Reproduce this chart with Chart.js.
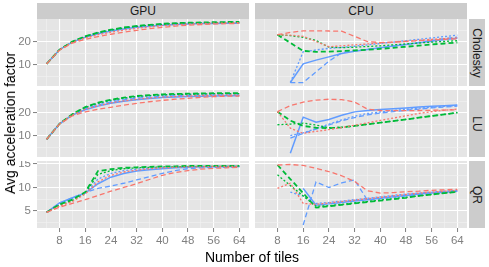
<!DOCTYPE html>
<html>
<head>
<meta charset="utf-8">
<script src="https://cdn.jsdelivr.net/npm/chart.js@4.4.0/dist/chart.umd.min.js"></script>
<style>
body { margin: 0; background: #fff; }
#wrap { position: relative; width: 489px; height: 267px; font-family: "Liberation Sans", Arial, sans-serif; overflow: hidden; }
.box { position: absolute; }
.strip { position: absolute; background: #CCCCCC; color: #1A1A1A; font-size: 12px; display: flex; align-items: center; justify-content: center; }
.strip.side span { transform: rotate(90deg); white-space: nowrap; }
.title { position: absolute; font-size: 14px; color: #000; white-space: nowrap; }
</style>
</head>
<body>
<div id="wrap"></div>
<script>
// x values (number of tiles)
const xGpu = [4, 8, 12, 16, 20, 24, 28, 32, 36, 40, 44, 48, 52, 56, 60, 64];
const xCpu = [8, 12, 16, 20, 24, 28, 32, 36, 40, 44, 48, 52, 56, 60, 64];

// series order: red dashed, red dotted, green dashed, green dotted, blue solid, blue dashed, blue dotted
const gpuCholesky = [
  [10.4, 16.3, 19.4, 21.0, 22.2, 23.2, 24.1, 24.9, 25.6, 26.2, 26.7, 27.1, 27.4, 27.6, 27.8, 27.9],
  [10.4, 16.4, 19.7, 21.6, 23.0, 24.1, 25.0, 25.8, 26.4, 26.9, 27.3, 27.6, 27.8, 28.0, 28.1, 28.2],
  [10.4, 16.5, 20.0, 22.3, 24.0, 25.2, 26.1, 26.8, 27.3, 27.7, 28.0, 28.2, 28.3, 28.4, 28.5, 28.5],
  [10.4, 16.5, 19.9, 22.2, 23.8, 25.0, 25.9, 26.6, 27.1, 27.5, 27.8, 28.0, 28.1, 28.2, 28.3, 28.3],
  [10.4, 16.5, 19.8, 21.9, 23.4, 24.6, 25.5, 26.2, 26.7, 27.1, 27.4, 27.6, 27.8, 27.9, 28.0, 28.0],
  [10.4, 16.5, 19.9, 22.1, 23.7, 24.9, 25.8, 26.5, 27.0, 27.4, 27.7, 27.9, 28.0, 28.1, 28.2, 28.2],
  [10.4, 16.5, 20.0, 22.3, 23.9, 25.1, 26.0, 26.7, 27.2, 27.6, 27.9, 28.1, 28.2, 28.3, 28.4, 28.4]
];
const gpuLU = [
  [8.4, 15.0, 18.6, 20.3, 21.4, 22.3, 23.2, 24.0, 24.7, 25.3, 25.8, 26.2, 26.6, 26.9, 27.1, 27.2],
  [8.4, 15.1, 19.0, 21.4, 23.0, 24.2, 25.1, 25.8, 26.3, 26.7, 27.0, 27.2, 27.4, 27.5, 27.6, 27.6],
  [8.4, 15.1, 19.3, 22.4, 24.3, 25.6, 26.5, 27.2, 27.6, 27.9, 28.1, 28.2, 28.3, 28.4, 28.4, 28.4],
  [8.4, 15.1, 19.2, 22.2, 24.1, 25.4, 26.3, 27.0, 27.4, 27.7, 27.9, 28.0, 28.1, 28.2, 28.2, 28.2],
  [8.4, 15.1, 18.9, 21.2, 22.8, 24.0, 24.9, 25.6, 26.1, 26.5, 26.8, 27.0, 27.1, 27.2, 27.3, 27.3],
  [8.4, 15.1, 19.1, 21.6, 23.3, 24.6, 25.5, 26.2, 26.7, 27.1, 27.3, 27.5, 27.6, 27.7, 27.7, 27.7],
  [8.4, 15.1, 19.2, 22.0, 23.8, 25.0, 26.0, 26.7, 27.2, 27.5, 27.7, 27.9, 28.0, 28.0, 28.1, 28.1]
];
const gpuQR = [
  [4.7, 5.8, 6.6, 7.4, 8.3, 9.2, 10.0, 10.8, 11.7, 12.6, 13.2, 13.6, 13.9, 14.1, 14.2, 14.3],
  [4.7, 6.0, 7.0, 8.6, 11.2, 12.6, 13.3, 13.7, 14.0, 14.2, 14.3, 14.4, 14.4, 14.5, 14.5, 14.5],
  [4.7, 6.4, 7.4, 9.0, 13.5, 13.9, 14.2, 14.3, 14.4, 14.5, 14.5, 14.6, 14.6, 14.6, 14.6, 14.6],
  [4.7, 6.2, 7.2, 8.8, 12.8, 13.6, 14.0, 14.2, 14.3, 14.4, 14.4, 14.5, 14.5, 14.5, 14.5, 14.5],
  [4.7, 6.7, 7.8, 8.8, 10.8, 12.2, 13.0, 13.5, 13.8, 14.0, 14.2, 14.3, 14.4, 14.4, 14.5, 14.5],
  [4.7, 6.6, 7.8, 8.9, 9.8, 10.3, 10.9, 11.6, 12.3, 13.0, 13.6, 14.0, 14.2, 14.3, 14.3, 14.4],
  [4.7, 6.5, 7.6, 8.8, 11.8, 13.0, 13.6, 13.9, 14.1, 14.3, 14.4, 14.4, 14.5, 14.5, 14.5, 14.5]
];
const cpuCholesky = [
  [23.0, 24.0, 24.7, 24.7, 24.6, 24.5, 22.3, 20.0, 19.6, 19.8, 20.1, 20.4, 20.7, 21.0, 21.2],
  [23.0, 22.8, 22.3, 20.0, 17.8, 18.2, 18.6, 19.0, 19.4, 19.8, 20.2, 20.6, 21.0, 21.3, 21.6],
  [23.0, 19.5, 16.0, 15.6, 15.7, 15.9, 16.2, 16.5, 16.9, 17.3, 17.8, 18.3, 18.8, 19.2, 19.6],
  [23.0, 22.6, 21.9, 20.5, 17.6, 17.4, 17.6, 17.9, 18.2, 18.6, 19.0, 19.4, 19.8, 20.1, 20.4],
  [null, 2.3, 10.4, 12.0, 13.4, 14.9, 15.8, 16.6, 17.4, 18.1, 18.8, 19.5, 20.2, 20.9, 21.5],
  [null, 2.3, 2.3, 6.9, 11.5, 15.2, 16.0, 16.6, 17.3, 18.0, 18.8, 19.7, 20.5, 21.3, 22.0],
  [null, 2.3, 15.6, 16.4, 17.1, 17.5, 18.0, 18.6, 19.2, 19.8, 20.4, 21.0, 21.6, 22.2, 22.8]
];
const cpuLU = [
  [20.4, 23.0, 24.5, 25.4, 25.8, 25.6, 24.6, 21.5, 20.9, 20.8, 20.8, 20.9, 21.0, 21.1, 21.2],
  [20.4, 13.2, 11.0, 11.8, 12.6, 13.5, 14.5, 15.5, 16.6, 17.6, 18.6, 19.6, 20.4, 21.0, 21.5],
  [20.4, 16.5, 14.2, 13.4, 13.2, 13.6, 14.2, 14.9, 15.6, 16.3, 17.0, 17.8, 18.5, 19.2, 20.0],
  [14.7, 15.0, 15.4, 14.6, 13.4, 13.6, 14.2, 14.9, 15.6, 16.3, 17.0, 17.8, 18.5, 19.2, 20.0],
  [null, 2.3, 18.0, 15.8, 17.0, 18.8, 20.3, 20.9, 21.3, 21.7, 22.0, 22.4, 22.7, 23.0, 23.3],
  [null, 8.9, 11.0, 12.8, 14.6, 16.4, 17.8, 19.0, 19.8, 20.4, 21.0, 21.5, 22.0, 22.4, 22.8],
  [null, 10.0, 11.2, 13.0, 15.0, 16.8, 18.4, 19.6, 20.3, 20.9, 21.4, 21.9, 22.3, 22.7, 23.1]
];
const cpuQR = [
  [14.8, 14.9, 14.7, 14.1, 13.4, 12.5, 11.3, 9.3, 8.8, 8.9, 9.1, 9.2, 9.4, 9.5, 9.6],
  [9.8, 10.9, 6.6, 6.4, 6.7, 7.0, 7.3, 7.6, 7.9, 8.2, 8.5, 8.8, 9.0, 9.2, 9.4],
  [14.8, 11.8, 8.8, 5.7, 6.0, 6.3, 6.6, 6.9, 7.2, 7.5, 7.8, 8.2, 8.5, 8.8, 9.1],
  [12.7, 10.4, 8.2, 6.0, 6.1, 6.4, 6.7, 7.0, 7.3, 7.6, 7.9, 8.2, 8.5, 8.8, 9.1],
  [null, null, 9.8, 6.2, 6.5, 6.8, 7.1, 7.4, 7.7, 8.0, 8.3, 8.6, 8.8, 9.0, 9.2],
  [null, null, 2.0, 11.2, 10.0, 11.0, 11.6, 7.3, 7.6, 7.9, 8.2, 8.5, 8.8, 9.0, 9.2],
  [null, 9.0, 8.2, 6.6, 6.8, 7.1, 7.4, 7.7, 8.0, 8.3, 8.6, 8.8, 9.0, 9.2, 9.4]
];

// axis breaks
const xMajor = [8, 16, 24, 32, 40, 48, 56, 64];
const xMinor = [4, 12, 20, 28, 36, 44, 52, 60];
const bigMajor = [10, 20];
const bigMinor = [5, 15, 25];
const qrMajor = [5, 10, 15];
const qrMinor = [2.5, 7.5, 12.5];

const colLabels = ['GPU', 'CPU'];
const rowLabels = ['Cholesky', 'LU', 'QR'];

// line styles
const lineColors = ['#F8766D', '#F8766D', '#00BA38', '#00BA38', '#619CFF', '#619CFF', '#619CFF'];
const lineDashes = [[5, 3], [2, 2], [5, 3], [2, 2], [], [5, 3], [2, 2]];
const lineWidths = [1.3, 1.3, 1.8, 1.3, 1.5, 1.3, 1.3];

const wrap = document.getElementById('wrap');
const FONT = '"Liberation Sans", Arial, sans-serif';
const colLeft = [37, 255];
const rowTop = [19, 90, 161];
const PW = 212, PH = 67, YAXIS = 23, XAXIS = 22;

const panelBg = {
    id: 'panelBg',
    beforeDraw(chart) {
        const a = chart.chartArea;
        const ctx = chart.ctx;
        ctx.save();
        ctx.fillStyle = '#E5E5E5';
        ctx.fillRect(a.left, a.top, a.right - a.left, a.bottom - a.top);
        ctx.restore();
    }
};

function axis(pos, min, max, major, minor, show, size) {
    const all = major.concat(minor).sort((a, b) => a - b);
    const isMajor = c => c.tick && major.includes(c.tick.value);
    return {
        type: 'linear',
        position: pos === 'x' ? 'bottom' : 'left',
        min: min,
        max: max,
        border: { display: false },
        grid: {
            color: c => isMajor(c) ? '#FFFFFF' : '#F2F2F2',
            lineWidth: c => isMajor(c) ? 1.1 : 0.6,
            drawTicks: show,
            tickLength: 4,
            tickWidth: 1,
            tickColor: c => isMajor(c) ? '#7F7F7F' : 'rgba(0,0,0,0)'
        },
        ticks: {
            display: show,
            autoSkip: false,
            maxRotation: 0,
            padding: 2,
            color: '#808080',
            font: { family: FONT, size: 11.5 },
            callback: v => major.includes(v) ? String(v) : ''
        },
        afterBuildTicks: s => { s.ticks = all.map(v => ({ value: v })); },
        afterFit: s => {
            if (pos === 'x') s.height = show ? size : 0;
            else s.width = show ? size : 0;
            s.paddingTop = 0; s.paddingBottom = 0; s.paddingLeft = 0; s.paddingRight = 0;
        }
    };
}

function makePanel(col, row, xs, series, yMin, yMax, yMajor, yMinor) {
    const showY = col === 0, showX = row === 2;
    const w = PW + (showY ? YAXIS : 0);
    const h = PH + (showX ? XAXIS : 0);
    const box = document.createElement('div');
    box.className = 'box';
    box.style.left = (colLeft[col] - (showY ? YAXIS : 0)) + 'px';
    box.style.top = rowTop[row] + 'px';
    const cv = document.createElement('canvas');
    cv.width = w; cv.height = h;
    cv.style.width = w + 'px'; cv.style.height = h + 'px';
    box.appendChild(cv);
    wrap.appendChild(box);

    new Chart(cv, {
        type: 'line',
        data: {
            datasets: series.map((vals, i) => ({
                data: xs.map((x, j) => ({ x: x, y: vals[j] })),
                borderColor: lineColors[i],
                borderWidth: lineWidths[i],
                borderDash: lineDashes[i],
                pointRadius: 0,
                tension: 0,
                fill: false
            }))
        },
        options: {
            responsive: false,
            animation: false,
            devicePixelRatio: 1,
            layout: { padding: 0 },
            plugins: { legend: { display: false }, tooltip: { enabled: false } },
            scales: {
                x: axis('x', 1, 67, xMajor, xMinor, showX, XAXIS),
                y: axis('y', yMin, yMax, yMajor, yMinor, showY, YAXIS)
            }
        },
        plugins: [panelBg]
    });
}

makePanel(0, 0, xGpu, gpuCholesky, 0.8, 29.8, bigMajor, bigMinor);
makePanel(1, 0, xCpu, cpuCholesky, 0.8, 29.8, bigMajor, bigMinor);
makePanel(0, 1, xGpu, gpuLU, 0.7, 29.8, bigMajor, bigMinor);
makePanel(1, 1, xCpu, cpuLU, 0.7, 29.8, bigMajor, bigMinor);
makePanel(0, 2, xGpu, gpuQR, 1.35, 15.65, qrMajor, qrMinor);
makePanel(1, 2, xCpu, cpuQR, 1.35, 15.65, qrMajor, qrMinor);

// facet strips
colLabels.forEach((t, i) => {
    const s = document.createElement('div');
    s.className = 'strip';
    s.style.left = colLeft[i] + 'px'; s.style.top = '3px';
    s.style.width = PW + 'px'; s.style.height = '16px';
    s.textContent = t;
    wrap.appendChild(s);
});
rowLabels.forEach((t, i) => {
    const s = document.createElement('div');
    s.className = 'strip side';
    s.style.left = '469px'; s.style.top = rowTop[i] + 'px';
    s.style.width = '16px'; s.style.height = PH + 'px';
    const sp = document.createElement('span');
    sp.textContent = t;
    s.appendChild(sp);
    wrap.appendChild(s);
});

// axis titles
const xt = document.createElement('div');
xt.className = 'title';
xt.textContent = 'Number of tiles';
xt.style.left = '252px'; xt.style.top = '257px';
xt.style.transform = 'translate(-50%, -50%)';
wrap.appendChild(xt);

const yt = document.createElement('div');
yt.className = 'title';
yt.textContent = 'Avg acceleration factor';
yt.style.left = '10px'; yt.style.top = '123px';
yt.style.transform = 'translate(-50%, -50%) rotate(-90deg)';
wrap.appendChild(yt);
</script>
</body>
</html>
